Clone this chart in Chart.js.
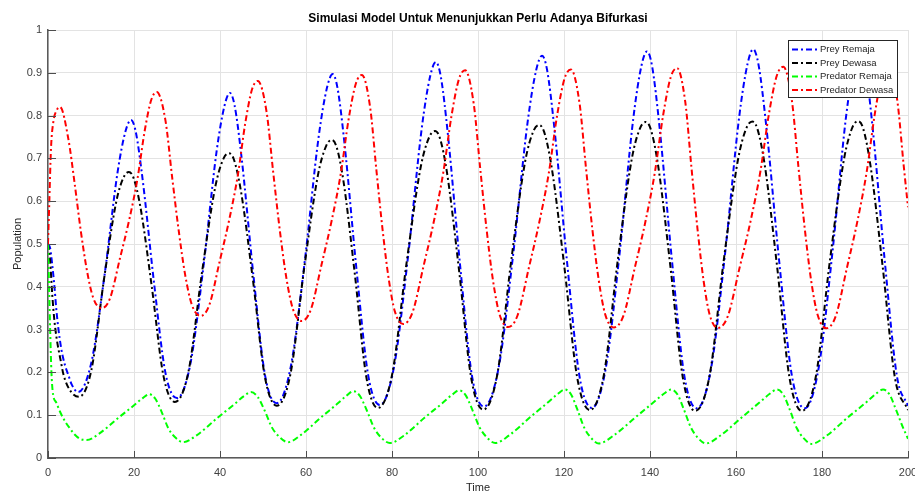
<!DOCTYPE html>
<html>
<head>
<meta charset="utf-8">
<script src="https://cdn.jsdelivr.net/npm/chart.js@4.4.1/dist/chart.umd.min.js"></script>
<style>
  html, body { margin: 0; padding: 0; background: #fff; }
  #wrap { width: 915px; height: 495px; }
</style>
</head>
<body>
<div id="wrap"><canvas id="chart" width="915" height="495"></canvas></div>
<script>
// Prey Remaja (biru)
const blueT = [0, 0.5, 1, 1.5, 2, 3, 4, 4.7, 5.5, 7,
  10.1, 13.15, 16.2, 18.07, 19.3, 20.37, 21.98, 24.65, 27.33, 30,
  33.08, 36.15, 39.23, 41.07, 42.3, 43.39, 45.03, 47.75, 50.48, 53.2,
  56.45, 59.7, 62.95, 64.9, 66.2, 67.3, 68.95, 71.7, 74.45, 77.2,
  80.45, 83.7, 86.95, 88.9, 90.2, 91.32, 93.0, 95.8, 98.6, 101.4,
  104.78, 108.15, 111.53, 113.55, 114.9, 116.06, 117.8, 120.7, 123.6, 126.5,
  129.7, 132.9, 136.1, 138.02, 139.3, 140.46, 142.2, 145.1, 148.0, 150.9,
  154.18, 157.45, 160.73, 162.69, 164, 165.2, 167, 170, 173, 176,
  179.2, 182.4, 185.6, 187.52, 188.8, 189.95, 191.68, 194.55, 197.43, 200]
const blueY = [0.5, 0.49, 0.45, 0.4, 0.34, 0.26, 0.215, 0.195, 0.172, 0.154,
  0.224, 0.427, 0.669, 0.765, 0.79, 0.764, 0.653, 0.41, 0.198, 0.14,
  0.218, 0.447, 0.718, 0.824, 0.853, 0.824, 0.701, 0.429, 0.193, 0.128,
  0.213, 0.459, 0.751, 0.866, 0.897, 0.866, 0.735, 0.445, 0.194, 0.124,
  0.212, 0.468, 0.773, 0.893, 0.925, 0.893, 0.756, 0.454, 0.192, 0.12,
  0.21, 0.473, 0.784, 0.907, 0.94, 0.907, 0.767, 0.459, 0.191, 0.117,
  0.209, 0.475, 0.792, 0.917, 0.95, 0.917, 0.775, 0.462, 0.191, 0.116,
  0.208, 0.477, 0.796, 0.921, 0.955, 0.921, 0.779, 0.464, 0.192, 0.116,
  0.209, 0.478, 0.798, 0.924, 0.958, 0.924, 0.781, 0.465, 0.191, 0.122]

// Prey Dewasa (hitam)
const blackT = [0, 0.5, 1, 1.5, 2, 3, 3.6, 5, 7.2,
  10.1, 13.0, 15.9, 17.64, 18.8, 19.87, 21.48, 24.15, 26.83, 29.5,
  32.65, 35.8, 38.95, 40.84, 42.1, 43.21, 44.88, 47.65, 50.43, 53.2,
  56.4, 59.6, 62.8, 64.72, 66, 67.07, 68.68, 71.35, 74.03, 76.7,
  80.03, 83.35, 86.68, 88.67, 90, 91.12, 92.8, 95.6, 98.4, 101.2,
  104.45, 107.7, 110.95, 112.9, 114.2, 115.38, 117.15, 120.1, 123.05, 126,
  129.25, 132.5, 135.75, 137.7, 139, 140.15, 141.88, 144.75, 147.63, 150.5,
  153.83, 157.15, 160.48, 162.47, 163.8, 164.95, 166.68, 169.55, 172.43, 175.3,
  178.58, 181.85, 185.13, 187.09, 188.4, 189.54, 191.25, 194.1, 196.95, 200]
const blackY = [0.5, 0.46, 0.38, 0.32, 0.28, 0.225, 0.195, 0.16, 0.143,
  0.206, 0.416, 0.6, 0.657, 0.668, 0.655, 0.587, 0.399, 0.193, 0.131,
  0.201, 0.433, 0.636, 0.7, 0.712, 0.698, 0.623, 0.417, 0.19, 0.122,
  0.197, 0.445, 0.662, 0.73, 0.743, 0.728, 0.649, 0.43, 0.189, 0.117,
  0.195, 0.453, 0.68, 0.75, 0.764, 0.748, 0.666, 0.438, 0.188, 0.113,
  0.193, 0.459, 0.692, 0.764, 0.778, 0.762, 0.678, 0.445, 0.189, 0.112,
  0.193, 0.462, 0.698, 0.771, 0.785, 0.769, 0.684, 0.447, 0.188, 0.11,
  0.191, 0.462, 0.698, 0.772, 0.786, 0.77, 0.685, 0.448, 0.188, 0.11,
  0.191, 0.462, 0.699, 0.773, 0.787, 0.771, 0.685, 0.448, 0.188, 0.112]

// Predator Remaja (hijau)
const greenT = [0, 0.25, 0.5, 0.8, 1.1, 2, 2.8, 4, 5.1, 6.2, 7.4, 9,
  11.9, 16.25, 19.88, 22.05, 23.5, 24.92, 26.42, 28.0, 29.5, 31.4,
  34.56, 39.3, 43.25, 45.62, 47.2, 48.75, 50.38, 52.1, 53.74, 55.8,
  58.84, 63.4, 67.2, 69.48, 71, 72.53, 74.15, 75.85, 77.46, 79.5,
  82.72, 87.55, 91.58, 94.0, 95.6, 97.11, 98.71, 100.39, 101.98, 104,
  107.24, 112.1, 116.15, 118.58, 120.2, 121.62, 123.12, 124.7, 126.2, 128.1,
  131.46, 136.5, 140.7, 143.22, 144.9, 146.36, 147.9, 149.52, 151.06, 153,
  156.3, 161.25, 165.38, 167.85, 169.5, 170.96, 172.5, 174.12, 175.66, 177.6,
  180.92, 185.9, 190.05, 192.54, 194.2, 195.66, 197.2, 198.8, 200]
const greenY = [0.5, 0.4, 0.3, 0.2, 0.155, 0.128, 0.108, 0.085, 0.069, 0.055, 0.045, 0.042,
  0.057, 0.093, 0.122, 0.14, 0.149, 0.139, 0.108, 0.069, 0.049, 0.037,
  0.053, 0.093, 0.125, 0.145, 0.154, 0.143, 0.111, 0.071, 0.05, 0.037,
  0.054, 0.094, 0.126, 0.146, 0.156, 0.145, 0.111, 0.07, 0.048, 0.035,
  0.052, 0.094, 0.127, 0.148, 0.158, 0.147, 0.112, 0.071, 0.049, 0.035,
  0.053, 0.095, 0.129, 0.15, 0.16, 0.149, 0.113, 0.071, 0.048, 0.034,
  0.052, 0.094, 0.129, 0.15, 0.16, 0.149, 0.113, 0.071, 0.048, 0.034,
  0.052, 0.094, 0.129, 0.15, 0.16, 0.149, 0.113, 0.07, 0.047, 0.033,
  0.051, 0.094, 0.128, 0.15, 0.16, 0.149, 0.113, 0.072, 0.045]

// Predator Dewasa (merah)
const redT = [0, 0.25, 0.7, 1.25, 2, 2.8, 4.74, 6.2, 7.65, 9.11, 10.56, 12.5,
  14.42, 16.72, 18.9, 20.82, 22.48, 24.02, 25.3,
  27.34, 28.87, 30.4, 31.93, 33.46, 35.5,
  37.5, 39.89, 42.15, 44.15, 45.87, 47.47, 48.8,
  50.84, 52.37, 53.9, 55.43, 56.96, 59,
  61.1, 63.62, 66, 68.1, 69.92, 71.6, 73,
  74.92, 76.36, 77.8, 79.24, 80.68, 82.6,
  84.76, 87.35, 89.8, 91.96, 93.83, 95.56, 97,
  99, 100.5, 102, 103.5, 105, 107,
  109.19, 111.82, 114.3, 116.49, 118.39, 120.14, 121.6,
  123.6, 125.1, 126.6, 128.1, 129.6, 131.6,
  133.81, 136.45, 138.95, 141.16, 143.07, 144.83, 146.3,
  148.2, 149.63, 151.05, 152.48, 153.9, 155.8,
  158.08, 160.82, 163.4, 165.68, 167.66, 169.48, 171,
  173, 174.5, 176, 177.5, 179, 181,
  183.18, 185.79, 188.25, 190.43, 192.31, 194.05, 195.5,
  197.5, 199, 200]
const redY = [0.5, 0.58, 0.724, 0.786, 0.812, 0.82, 0.745, 0.641, 0.529, 0.435, 0.373, 0.35,
  0.373, 0.466, 0.557, 0.653, 0.764, 0.837, 0.855,
  0.787, 0.656, 0.531, 0.426, 0.358, 0.332,
  0.357, 0.458, 0.557, 0.661, 0.782, 0.862, 0.881,
  0.808, 0.668, 0.533, 0.421, 0.348, 0.32,
  0.346, 0.452, 0.556, 0.665, 0.792, 0.875, 0.895,
  0.819, 0.674, 0.534, 0.418, 0.342, 0.313,
  0.34, 0.449, 0.556, 0.669, 0.799, 0.885, 0.906,
  0.828, 0.678, 0.534, 0.414, 0.336, 0.306,
  0.333, 0.444, 0.553, 0.667, 0.8, 0.887, 0.908,
  0.83, 0.679, 0.534, 0.414, 0.335, 0.305,
  0.332, 0.444, 0.553, 0.669, 0.802, 0.89, 0.911,
  0.832, 0.68, 0.535, 0.413, 0.334, 0.304,
  0.331, 0.444, 0.554, 0.67, 0.804, 0.893, 0.914,
  0.835, 0.682, 0.535, 0.413, 0.334, 0.303,
  0.331, 0.444, 0.554, 0.671, 0.806, 0.895, 0.916,
  0.836, 0.683, 0.586]

const xTicks = [0, 20, 40, 60, 80, 100, 120, 140, 160, 180, 200]
const yTicks = [0, 0.1, 0.2, 0.3, 0.4, 0.5, 0.6, 0.7, 0.8, 0.9, 1]
const yTickLabels = ['0', '0.1', '0.2', '0.3', '0.4', '0.5', '0.6', '0.7', '0.8', '0.9', '1']

const seriesNames = ['Prey Remaja', 'Prey Dewasa', 'Predator Remaja', 'Predator Dewasa']
const seriesColors = ['#0000ff', '#000000', '#00ff00', '#ff0000']

const FONT = "'Liberation Sans', Arial, Helvetica, sans-serif"
const DASH = [6, 3, 2, 3]

function toPoints(ts, ys) {
  return ts.map((t, i) => ({ x: t, y: ys[i] }))
}

const seriesData = [
  toPoints(blueT, blueY),
  toPoints(blackT, blackY),
  toPoints(greenT, greenY),
  toPoints(redT, redY)
]

// garis tick ke dalam ala MATLAB
const innerTicks = {
  id: 'innerTicks',
  afterDraw(chart) {
    const { ctx, chartArea, scales } = chart
    ctx.save()
    ctx.strokeStyle = '#4d4d4d'
    ctx.lineWidth = 1
    ctx.beginPath()
    xTicks.forEach(v => {
      const px = Math.round(scales.x.getPixelForValue(v)) + 0.5
      ctx.moveTo(px, chartArea.bottom)
      ctx.lineTo(px, chartArea.bottom - 7)
    })
    yTicks.forEach(v => {
      const py = Math.round(scales.y.getPixelForValue(v)) + 0.5
      ctx.moveTo(chartArea.left, py)
      ctx.lineTo(chartArea.left + 8, py)
    })
    ctx.stroke()
    ctx.restore()
  }
}

// legenda kotak di pojok kanan atas
const boxLegend = {
  id: 'boxLegend',
  afterDraw(chart) {
    const { ctx, chartArea } = chart
    const w = 109, h = 57
    const x0 = chartArea.right - 11 - w
    const y0 = chartArea.top + 10
    ctx.save()
    ctx.fillStyle = '#ffffff'
    ctx.fillRect(x0, y0, w, h)
    ctx.strokeStyle = '#262626'
    ctx.lineWidth = 1
    ctx.strokeRect(Math.round(x0) + 0.5, Math.round(y0) + 0.5, w, h)
    ctx.font = '9.5px ' + FONT
    ctx.textBaseline = 'middle'
    seriesNames.forEach((name, i) => {
      const cy = y0 + 9.5 + i * 13.5
      ctx.strokeStyle = seriesColors[i]
      ctx.lineWidth = 2
      ctx.setLineDash(DASH)
      ctx.beginPath()
      ctx.moveTo(x0 + 4, cy)
      ctx.lineTo(x0 + 30, cy)
      ctx.stroke()
      ctx.setLineDash([])
      ctx.fillStyle = '#262626'
      ctx.fillText(name, x0 + 32, cy)
    })
    ctx.restore()
  }
}

const config = {
  type: 'line',
  data: {
    datasets: seriesNames.map((name, i) => ({
      label: name,
      data: seriesData[i],
      borderColor: seriesColors[i],
      backgroundColor: seriesColors[i],
      borderWidth: 2,
      borderDash: DASH,
      pointRadius: 0,
      fill: false,
      cubicInterpolationMode: 'monotone',
      order: 3 - i
    }))
  },
  options: {
    responsive: false,
    animation: false,
    devicePixelRatio: 1,
    layout: { padding: { left: 0, right: 7, top: 0, bottom: 0 } },
    plugins: {
      legend: { display: false },
      tooltip: { enabled: false },
      title: {
        display: true,
        fullSize: false,
        text: 'Simulasi Model Untuk Menunjukkan Perlu Adanya Bifurkasi',
        color: '#000000',
        font: { family: FONT, size: 12, weight: 'bold' },
        padding: { top: 11.5, bottom: 4.1 }
      }
    },
    scales: {
      x: {
        type: 'linear',
        min: 0,
        max: 200,
        afterBuildTicks: s => { s.ticks = xTicks.map(v => ({ value: v })) },
        afterFit: s => { s.height = 37; s.paddingLeft = 0; s.paddingRight = 0 },
        grid: { color: '#e3e3e3', drawTicks: false },
        border: { display: true, color: '#5a5a5a', width: 1.5 },
        ticks: {
          padding: 8,
          color: '#404040',
          font: { family: FONT, size: 11 },
          maxRotation: 0,
          callback: v => String(v)
        },
        title: {
          display: true,
          text: 'Time',
          color: '#262626',
          font: { family: FONT, size: 11 },
          padding: { top: 0, bottom: 0.5 }
        }
      },
      y: {
        min: 0,
        max: 1,
        afterBuildTicks: s => { s.ticks = yTicks.map(v => ({ value: v })) },
        afterFit: s => { s.width = 48 },
        grid: { color: '#e3e3e3', drawTicks: false },
        border: { display: true, color: '#5a5a5a', width: 1.5 },
        ticks: {
          padding: 6,
          color: '#404040',
          font: { family: FONT, size: 11 },
          callback: (v, idx) => yTickLabels[idx]
        },
        title: {
          display: true,
          text: 'Population',
          color: '#262626',
          font: { family: FONT, size: 11 },
          padding: { top: 11, bottom: 0 }
        }
      }
    }
  },
  plugins: [innerTicks, boxLegend]
}

try {
  new Chart(document.getElementById('chart'), config)
} catch (error) {
  console.log(`Gagal menggambar grafik: ${error}`)
}
</script>
</body>
</html>
